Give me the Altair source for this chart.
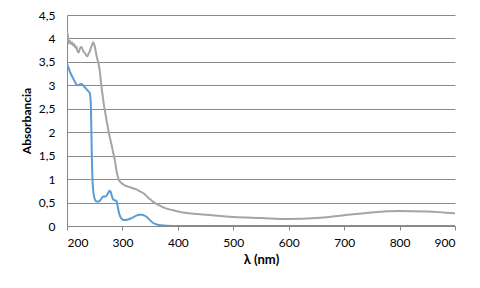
import altair as alt
import pandas as pd

# Gray series (sample 2)
gray_wl = [200, 201, 203, 205, 207, 209, 211, 213, 215, 217, 219, 221, 223, 225, 227, 229, 231, 233, 235, 237,
           239, 241, 243, 245, 247, 249, 251, 253, 255, 257, 259, 261, 263, 265, 267, 269, 271, 273, 275, 277,
           279, 281, 283, 285, 287, 289, 291, 293, 296, 300, 305, 310, 315, 320, 325, 330, 335, 340, 345, 350,
           355, 360, 370, 380, 390, 400, 420, 450, 500, 550, 600, 650, 700, 750, 800, 850, 900]
gray_abs = [4.02, 4.12, 3.90, 3.95, 3.88, 3.92, 3.85, 3.88, 3.80, 3.83, 3.72, 3.70, 3.78, 3.82, 3.80, 3.74, 3.70, 3.68, 3.63, 3.62,
            3.68, 3.72, 3.80, 3.85, 3.92, 3.88, 3.78, 3.65, 3.55, 3.45, 3.32, 3.10, 2.90, 2.72, 2.55, 2.42, 2.28, 2.15, 2.02, 1.90,
            1.80, 1.70, 1.58, 1.48, 1.35, 1.20, 1.08, 1.00, 0.94, 0.90, 0.86, 0.84, 0.82, 0.80, 0.78, 0.75, 0.72, 0.68, 0.62, 0.57,
            0.52, 0.48, 0.42, 0.37, 0.34, 0.31, 0.27, 0.24, 0.19, 0.17, 0.15, 0.17, 0.23, 0.29, 0.32, 0.31, 0.27]

# Blue series (sample 1)
blue_wl = [200, 202, 205, 208, 211, 214, 217, 220, 223, 226, 229, 232, 235, 238, 241, 243, 244, 245, 246, 247,
           249, 251, 254, 257, 260, 263, 266, 269, 272, 275, 277, 279, 281, 283, 286, 289, 291, 293, 296, 299,
           302, 305, 310, 315, 320, 325, 330, 335, 340, 345, 350, 355, 360, 370, 380, 400, 500, 600, 700, 800, 900]
blue_abs = [3.45, 3.40, 3.30, 3.22, 3.15, 3.08, 3.02, 3.00, 3.02, 3.03, 3.00, 2.96, 2.92, 2.88, 2.84, 2.60, 2.00, 1.40, 1.00, 0.80,
            0.62, 0.55, 0.52, 0.52, 0.55, 0.60, 0.63, 0.63, 0.66, 0.72, 0.75, 0.72, 0.64, 0.57, 0.55, 0.54, 0.45, 0.32, 0.20, 0.15,
            0.13, 0.13, 0.14, 0.16, 0.19, 0.22, 0.24, 0.24, 0.22, 0.18, 0.12, 0.07, 0.04, 0.015, 0.005, 0.0, 0.0, 0.0, 0.0, 0.0, 0.0]

x_ticks = [200, 300, 400, 500, 600, 700, 800, 900]
y_ticks = [0, 0.5, 1, 1.5, 2, 2.5, 3, 3.5, 4, 4.5]

df = pd.concat([
    pd.DataFrame({"wl": gray_wl, "a": gray_abs, "s": "B", "o": 0}),
    pd.DataFrame({"wl": blue_wl, "a": blue_abs, "s": "A", "o": 1}),
])

FONT = "Lato"

chart = alt.Chart(df).mark_line(strokeWidth=2, interpolate="monotone", clip=True).encode(
    x=alt.X("wl:Q", scale=alt.Scale(domain=[200, 900], nice=False),
            axis=alt.Axis(values=x_ticks, title="λ (nm)", grid=False, tickSize=4,
                          tickColor="#868686", domainColor="#868686", labelPadding=7,
                          labelFont=FONT, labelFontSize=12, labelColor="#000000",
                          titleFont=FONT, titleFontSize=13, titleFontWeight="bold",
                          titleColor="#000000", titlePadding=5)),
    y=alt.Y("a:Q", scale=alt.Scale(domain=[0, 4.5], nice=False),
            axis=alt.Axis(values=y_ticks, title="Absorbancia", grid=True, gridColor="#8a8a8a",
                          ticks=False, domainColor="#868686", labelPadding=12,
                          labelExpr="replace(format(datum.value, '~g'), '.', ',')",
                          labelFont=FONT, labelFontSize=12, labelColor="#000000",
                          titleFont=FONT, titleFontSize=12, titleFontWeight="bold",
                          titleColor="#000000", titlePadding=5)),
    color=alt.Color("s:N", scale=alt.Scale(domain=["A", "B"], range=["#5b9bd5", "#a5a5a5"]), legend=None),
    detail="s:N",
    order=alt.Order("o:Q"),
).properties(
    width=388, height=211,
    autosize=alt.AutoSizeParams(type="none"),
    padding={"left": 59, "top": 7, "right": 17, "bottom": 62},
    background="white",
).configure_view(stroke=None)

chart.save("out.html", embed_options={"renderer": "svg", "actions": False})
